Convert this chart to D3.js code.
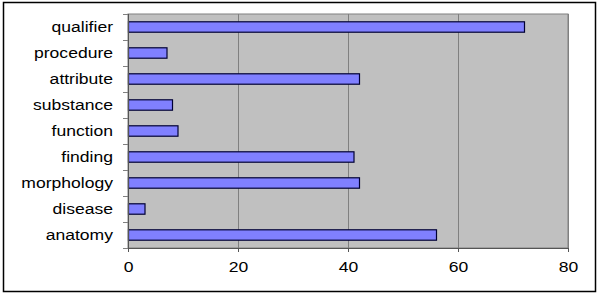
<!DOCTYPE html>
<html>
<head>
<meta charset="utf-8">
<script src="https://cdn.jsdelivr.net/npm/d3@7"></script>
<style>
  body { margin: 0; background: #fff; }
  text { font-family: Arial, "Liberation Sans", sans-serif; fill: #000; }
</style>
</head>
<body>
<div id="chart"></div>
<script>
// categories top to bottom
const categories = ['qualifier', 'procedure', 'attribute', 'substance', 'function',
                    'finding', 'morphology', 'disease', 'anatomy'];
const counts = [72, 7, 42, 8, 9, 41, 42, 3, 56];
const xTicks = [0, 20, 40, 60, 80];

const width = 600, height = 295;
const plot = { left: 128, right: 568, top: 14, bottom: 248 };
const stretch = 1.17; // text in the picture is a bit wider than normal

const svg = d3.select('#chart').append('svg')
  .attr('width', width)
  .attr('height', height);

// outer frame
svg.append('rect')
  .attr('x', 3.5).attr('y', 2.5)
  .attr('width', 592).attr('height', 289)
  .attr('fill', '#fff')
  .attr('stroke', '#000')
  .attr('stroke-width', 1.5);

const xScale = d3.scaleLinear().domain([0, 80]).range([plot.left, plot.right]);
const yScale = d3.scaleBand().domain(categories)
  .range([plot.top, plot.bottom])
  .paddingInner(0.6).paddingOuter(0.3);

// plot area
svg.append('rect')
  .attr('x', plot.left).attr('y', plot.top)
  .attr('width', plot.right - plot.left).attr('height', plot.bottom - plot.top)
  .attr('fill', '#c0c0c0')
  .attr('stroke', '#808080')
  .attr('stroke-width', 1);

// vertical gridlines
svg.append('g').selectAll('line')
  .data(xTicks.slice(1))
  .enter().append('line')
  .attr('x1', d => xScale(d) + 0.5).attr('x2', d => xScale(d) + 0.5)
  .attr('y1', plot.top).attr('y2', plot.bottom)
  .attr('stroke', '#808080')
  .attr('stroke-width', 1);

// bars
svg.append('g').selectAll('rect')
  .data(categories.map((c, i) => [c, counts[i]]))
  .enter().append('rect')
  .attr('x', xScale(0) + 0.5)
  .attr('y', d => yScale(d[0]))
  .attr('width', d => xScale(d[1]) - xScale(0))
  .attr('height', yScale.bandwidth())
  .attr('fill', '#8080ff')
  .attr('stroke', '#000033')
  .attr('stroke-width', 1.2);

// x axis
const xAxis = d3.axisBottom(xScale).tickValues(xTicks).tickSize(4).tickPadding(9);
const gx = svg.append('g')
  .attr('transform', 'translate(0,' + plot.bottom + ')')
  .call(xAxis);
gx.select('.domain').attr('stroke', '#555');
gx.selectAll('.tick line').attr('stroke', '#555');
gx.selectAll('.tick text')
  .attr('font-size', 15)
  .attr('transform', 'scale(' + stretch + ',1)')
  .attr('x', 0);

// y axis: ticks sit on the category boundaries
const step = yScale.step();
const bounds = d3.range(categories.length + 1).map(i => yScale(categories[0]) - step * 0.2 + i * step);
const gy = svg.append('g');
gy.append('line')
  .attr('x1', plot.left + 0.5).attr('x2', plot.left + 0.5)
  .attr('y1', plot.top).attr('y2', plot.bottom)
  .attr('stroke', '#555');
gy.selectAll('.tk')
  .data(d3.range(categories.length + 1))
  .enter().append('line')
  .attr('class', 'tk')
  .attr('x1', plot.left - 5).attr('x2', plot.left)
  .attr('y1', i => Math.round(plot.top + i * (plot.bottom - plot.top) / categories.length) + 0.5)
  .attr('y2', i => Math.round(plot.top + i * (plot.bottom - plot.top) / categories.length) + 0.5)
  .attr('stroke', '#808080');

gy.selectAll('text')
  .data(categories)
  .enter().append('text')
  .attr('text-anchor', 'end')
  .attr('dy', '0.35em')
  .attr('font-size', 15)
  .attr('transform', d => 'translate(113,' + (yScale(d) + yScale.bandwidth() / 2) + ') scale(' + stretch + ',1)')
  .text(d => d);
</script>
</body>
</html>
